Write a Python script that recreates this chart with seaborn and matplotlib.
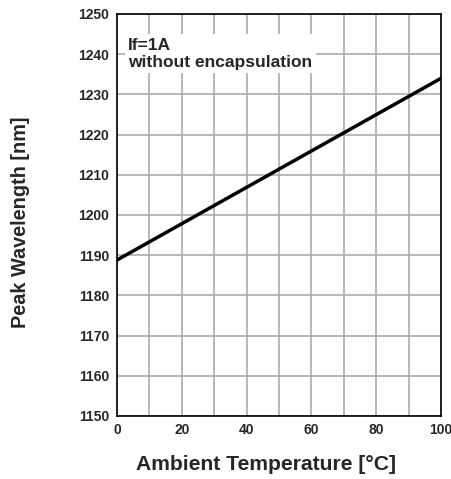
import matplotlib
matplotlib.use("Agg")
import matplotlib.pyplot as plt
import seaborn as sns
import pandas as pd
import numpy as np

temperature = [0, 100]
wavelength = [1188.8, 1234.0]
x_ticks = [0, 20, 40, 60, 80, 100]
y_ticks = [1150, 1160, 1170, 1180, 1190, 1200, 1210, 1220, 1230, 1240, 1250]

sns.set_style("white")
plt.rcParams['font.family'] = ['Liberation Sans', 'DejaVu Sans']

df = pd.DataFrame({"T": temperature, "WL": wavelength})

fig = plt.figure(figsize=(4.51, 4.79), dpi=100)
ax = fig.add_axes([117/451, 1 - 416/479, (441 - 117)/451, (416 - 14)/479])

ax.set_xlim(0, 100)
ax.set_ylim(1150, 1250)
ax.set_xticks(np.arange(0, 101, 10), minor=True)
ax.set_xticks(x_ticks)
ax.set_yticks(y_ticks)
ax.grid(True, which="both", color="#a6a6a6", linewidth=1.1)
ax.set_axisbelow(True)

sns.lineplot(data=df, x="T", y="WL", ax=ax, color="black", linewidth=2.5)

ax.tick_params(axis="both", which="both", length=0, labelsize=10)
ax.tick_params(axis="y", pad=5.5)
ax.tick_params(axis="x", pad=5)
for lbl in ax.get_xticklabels() + ax.get_yticklabels():
    lbl.set_fontweight("bold")
for s in ax.spines.values():
    s.set_color("black")
    s.set_linewidth(1.2)

ax.set_xlabel("Ambient Temperature [°C]", fontsize=15.2, fontweight="bold", labelpad=13)
ax.set_ylabel("Peak Wavelength [nm]", fontsize=14.3, fontweight="bold", labelpad=35)
ax.xaxis.label.set_x(0.461)
ax.yaxis.label.set_y(0.481)

ax.text(3.4, 1236.9, "If=1A\nwithout encapsulation", fontsize=12.5, fontweight="bold",
        va="baseline", ha="left", linespacing=1.15,
        bbox=dict(facecolor="white", edgecolor="none", pad=2.5))

fig.savefig("out.png", dpi=100)
